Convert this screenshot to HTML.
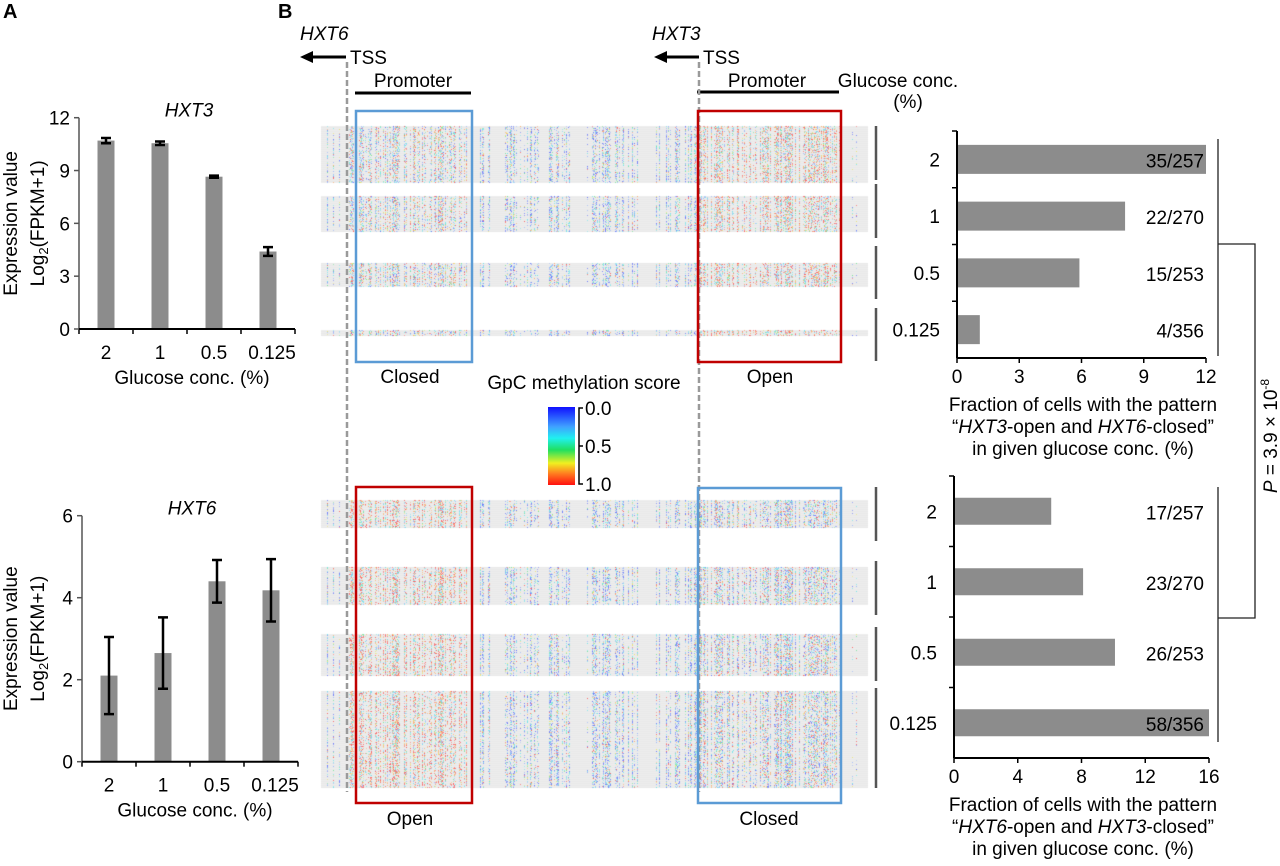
<!DOCTYPE html>
<html><head><meta charset="utf-8">
<style>
html,body{margin:0;padding:0;background:#fff;}
#wrap{position:relative;width:1280px;height:866px;overflow:hidden;font-family:"Liberation Sans",Arial,sans-serif;}
canvas,svg{position:absolute;left:0;top:0;}
</style></head>
<body>
<div id="wrap">
<canvas id="hm" width="1280" height="866"></canvas>
<svg id="fig" width="1280" height="866" xmlns="http://www.w3.org/2000/svg" font-family="Liberation Sans, Arial, sans-serif">
<defs>
<linearGradient id="cb" x1="0" y1="0" x2="0" y2="1">
<stop offset="0" stop-color="#1010ff"/><stop offset="0.25" stop-color="#40a0ff"/><stop offset="0.4" stop-color="#20f0f0"/><stop offset="0.55" stop-color="#20e060"/><stop offset="0.72" stop-color="#f0f020"/><stop offset="0.85" stop-color="#ff8020"/><stop offset="1" stop-color="#ff1010"/>
</linearGradient>
</defs>
<text x="3" y="18" font-size="20" font-weight="bold">A</text>
<text x="278" y="18" font-size="20" font-weight="bold">B</text>

<text x="300" y="40" font-size="19" font-style="italic">HXT6</text>
<text x="652" y="40" font-size="19" font-style="italic">HXT3</text>
<g><line x1="310" y1="57" x2="346" y2="57" stroke="#000" stroke-width="3"/><polygon points="300,57 313,51 313,63" fill="#000"/></g>
<g><line x1="664" y1="57" x2="699" y2="57" stroke="#000" stroke-width="3"/><polygon points="654,57 667,51 667,63" fill="#000"/></g>
<text x="350" y="64" font-size="19">TSS</text>
<text x="703" y="64" font-size="19">TSS</text>
<text x="413" y="87" font-size="19" text-anchor="middle">Promoter</text>
<text x="767" y="87" font-size="19" text-anchor="middle">Promoter</text>
<line x1="355" y1="93" x2="471" y2="93" stroke="#000" stroke-width="3"/>
<line x1="697" y1="92" x2="839" y2="92" stroke="#000" stroke-width="3"/>
<text x="898" y="87" font-size="19" text-anchor="middle">Glucose conc.</text>
<text x="908" y="108" font-size="19" text-anchor="middle">(%)</text>

<line x1="347" y1="62" x2="347" y2="792" stroke="#9a9a9a" stroke-width="2.5" stroke-dasharray="6,3"/>
<line x1="699" y1="62" x2="699" y2="792" stroke="#9a9a9a" stroke-width="2.5" stroke-dasharray="6,3"/>

<rect x="356" y="111" width="116" height="251" fill="none" stroke="#5b9bd5" stroke-width="2.5"/>
<rect x="698" y="111" width="143" height="251" fill="none" stroke="#c00000" stroke-width="2.5"/>
<rect x="356" y="487" width="116" height="316" fill="none" stroke="#c00000" stroke-width="2.5"/>
<rect x="698" y="488" width="143" height="315" fill="none" stroke="#5b9bd5" stroke-width="2.5"/>
<text x="410" y="383" font-size="19" text-anchor="middle">Closed</text>
<text x="770" y="383" font-size="19" text-anchor="middle">Open</text>
<text x="410" y="825" font-size="19" text-anchor="middle">Open</text>
<text x="769" y="825" font-size="19" text-anchor="middle">Closed</text>

<g>
<text x="584" y="389" font-size="19" text-anchor="middle">GpC methylation score</text>
<rect x="548" y="407" width="27" height="78" fill="url(#cb)"/>
<path d="M583,408 L579,408 L579,484 L583,484 M579,446 L583,446" stroke="#000" stroke-width="1.5" fill="none"/>
<text x="585" y="415" font-size="19">0.0</text>
<text x="585" y="453" font-size="19">0.5</text>
<text x="585" y="491" font-size="19">1.0</text>
</g>

<g id="segs" stroke="#555" stroke-width="2.5"></g>

<g stroke="#222" stroke-width="1.3" fill="none">
<line x1="1218" y1="139" x2="1218" y2="356"/>
<line x1="1218" y1="487" x2="1218" y2="742"/>
<polyline points="1218,244 1255,244 1255,618 1218,618"/>
</g>
<text transform="translate(1277,436) rotate(-90)" font-size="19" text-anchor="middle"><tspan font-style="italic">P</tspan> = 3.9 × 10<tspan font-size="12" dy="-8">-8</tspan></text>

<g id="charts"></g>
</svg>
</div>
<script>
// ---------- data ----------
const aCats = ['2','1','0.5','0.125'];
const hxt3Vals = [10.7, 10.55, 8.65, 4.4];
const hxt3Err = [0.15, 0.1, 0.06, 0.25];
const hxt6Vals = [2.1, 2.65, 4.4, 4.18];
const hxt6Err = [0.94, 0.87, 0.52, 0.76];
const hxt3Ticks = [0, 3, 6, 9, 12];
const hxt6Ticks = [0, 2, 4, 6];
const rCats = ['2','1','0.5','0.125'];
const openVals = [12, 8.1, 5.9, 1.1];
const openCounts = ['35/257','22/270','15/253','4/356'];
const openTicks = [0, 3, 6, 9, 12];
const closedVals = [6.1, 8.1, 10.1, 16];
const closedCounts = ['17/257','23/270','26/253','58/356'];
const closedTicks = [0, 4, 8, 12, 16];

const FS = 19;
const NS = 'http://www.w3.org/2000/svg';
const charts = document.getElementById('charts');
function mk(tag, attrs, parent) {
  const e = document.createElementNS(NS, tag);
  for (const k in attrs) e.setAttribute(k, attrs[k]);
  (parent || charts).appendChild(e);
  return e;
}
function txt(x, y, s, anchor, size, parent) {
  const t = mk('text', {x: x, y: y, 'font-size': size || FS, 'text-anchor': anchor || 'middle'}, parent);
  t.textContent = s;
  return t;
}

function vChart(name, cfg) {
  const g = mk('g', {});
  
  
  const yS = v => cfg.y0 - (v / cfg.max) * (cfg.y0 - cfg.yTop);
  const band = (cfg.x1 - cfg.x0) / cfg.cats.length;
  const xS = i => cfg.x0 + band * (i + 0.5);
  cfg.vals.forEach((v, i) => {
    const r = mk('rect', {x: xS(i) - 8.5, y: yS(v), width: 17, height: cfg.y0 - yS(v), fill: '#8c8c8c'}, g);
    
    
    const e = cfg.err[i];
    const eb = mk('path', {d: `M${xS(i)-5},${yS(v+e)}H${xS(i)+5}M${xS(i)},${yS(v+e)}V${yS(v-e)}M${xS(i)-5},${yS(v-e)}H${xS(i)+5}`, stroke: '#000', 'stroke-width': 2.5, fill: 'none'}, g);
    
    
    const tl = txt(xS(i) + (i === 3 ? 4 : 0), cfg.y0 + 30, cfg.cats[i], 'middle', FS, g);
    
    
  });
  mk('line', {x1: cfg.x0, y1: cfg.yTop, x2: cfg.x0, y2: cfg.y0, stroke: '#555', 'stroke-width': 1.5}, g);
  mk('line', {x1: cfg.x0, y1: cfg.y0, x2: cfg.x1, y2: cfg.y0, stroke: '#000', 'stroke-width': 2}, g);
  for (let i = 0; i <= cfg.cats.length; i++) mk('line', {x1: cfg.x0 + band * i, y1: cfg.y0, x2: cfg.x0 + band * i, y2: cfg.y0 + 5, stroke: '#000', 'stroke-width': 1.5}, g);
  cfg.ticks.forEach(t => {
    mk('line', {x1: cfg.x0 - 5, y1: yS(t), x2: cfg.x0, y2: yS(t), stroke: '#555', 'stroke-width': 1.5}, g);
    const tl = txt(cfg.x0 - 9, yS(t) + 7, String(t), 'end', FS, g);
    
    
  });
  const ti = txt((cfg.x0 + cfg.x1) / 2 + 2, cfg.yTop - 1, cfg.title, 'middle', FS, g);
  ti.setAttribute('font-style', 'italic');
  
  
  const xt = txt((cfg.x0 + cfg.x1) / 2 + 5, cfg.y0 + 55, 'Glucose conc. (%)', 'middle', FS, g);
  
  
  const cy = (cfg.yTop + cfg.y0) / 2;
  const y1 = mk('text', {transform: `translate(17,${cy}) rotate(-90)`, 'font-size': FS, 'text-anchor': 'middle'}, g);
  y1.textContent = 'Expression value';
  
  
  const y2 = mk('text', {transform: `translate(44,${cy}) rotate(-90)`, 'font-size': FS, 'text-anchor': 'middle'}, g);
  y2.innerHTML = 'Log<tspan font-size="13" dy="4">2</tspan><tspan dy="-4">(FPKM+1)</tspan>';
  
  
}
vChart('hxt3-expression-chart', {x0: 79, x1: 295, yTop: 117.7, y0: 329, max: 12, cats: aCats, vals: hxt3Vals, err: hxt3Err, ticks: hxt3Ticks, title: 'HXT3'});
vChart('hxt6-expression-chart', {x0: 82, x1: 298, yTop: 515.7, y0: 761.7, max: 6, cats: aCats, vals: hxt6Vals, err: hxt6Err, ticks: hxt6Ticks, title: 'HXT6'});

function hChart(name, cfg) {
  const g = mk('g', {});
  
  
  const xS = v => cfg.x0 + (v / cfg.max) * (cfg.x1 - cfg.x0);
  const band = (cfg.y1 - cfg.yTop) / cfg.cats.length;
  const yS = i => cfg.yTop + band * (i + 0.5);
  cfg.vals.forEach((v, i) => {
    const r = mk('rect', {x: cfg.x0, y: yS(i) - cfg.bh / 2, width: xS(v) - cfg.x0, height: cfg.bh, fill: '#8c8c8c'}, g);
    
    
    const cl = txt(cfg.x0 - 17, yS(i) + 7, cfg.cats[i], 'end', FS, g);
    
    
    const vl = txt(1204, yS(i) + 8, cfg.counts[i], 'end', FS, g);
    
    
  });
  mk('line', {x1: cfg.x0, y1: cfg.yTop, x2: cfg.x0, y2: cfg.y1, stroke: '#000', 'stroke-width': 2}, g);
  mk('line', {x1: cfg.x0, y1: cfg.y1, x2: cfg.x1, y2: cfg.y1, stroke: '#000', 'stroke-width': 2}, g);
  for (let i = 0; i < cfg.cats.length; i++) mk('line', {x1: cfg.x0 - 5, y1: cfg.yTop + band * i, x2: cfg.x0, y2: cfg.yTop + band * i, stroke: '#000', 'stroke-width': 1.5}, g);
  cfg.ticks.forEach(t => {
    mk('line', {x1: xS(t), y1: cfg.y1, x2: xS(t), y2: cfg.y1 + 5, stroke: '#000', 'stroke-width': 1.5}, g);
    const tl = txt(xS(t), cfg.y1 + 25, String(t), 'middle', FS, g);
    
    
  });
  cfg.titleLines.forEach((html, k) => {
    const t = mk('text', {x: 1083, y: cfg.y1 + 53 + k * 22, 'font-size': FS, 'text-anchor': 'middle'}, g);
    t.innerHTML = html;
    
    
  });
}
hChart('open-pattern-chart', {x0: 957, x1: 1206, yTop: 131, y1: 358, max: 12, bh: 29, cats: rCats, vals: openVals, counts: openCounts, ticks: openTicks,
  titleLines: ['Fraction of cells with the pattern', '“<tspan font-style="italic">HXT3</tspan>-open and <tspan font-style="italic">HXT6</tspan>-closed”', 'in given glucose conc. (%)']});
hChart('closed-pattern-chart', {x0: 954, x1: 1209, yTop: 476, y1: 758, max: 16, bh: 27, cats: rCats, vals: closedVals, counts: closedCounts, ticks: closedTicks,
  titleLines: ['Fraction of cells with the pattern', '“<tspan font-style="italic">HXT6</tspan>-open and <tspan font-style="italic">HXT3</tspan>-closed”', 'in given glucose conc. (%)']});

const segs = document.getElementById('segs');
[[126,180],[184,238],[246,299],[308,361],[487,541],[561,615],[627,681],[688,788]].forEach(s => {
  const l = mk('line', {x1: 876, y1: s[0], x2: 876, y2: s[1]}, segs);
  
  
});

// ---------- heatmap texture ----------
const topBlocks = [[126,183],[196,232],[263,287],[330,336]];
const botBlocks = [[500,528],[567,605],[634,676],[691,788]];
(function () {
  const c = document.getElementById('hm');
  const ctx = c.getContext('2d');
  let s = 12345;
  const rnd = () => { s = (s * 1103515245 + 12345) & 0x7fffffff; return s / 0x7fffffff; };
  const dens = [[321,349,0.2],[349,464,0.6],[464,476,0.2],[476,490,0.4],[490,505,0.02],[505,572,0.55],[572,592,0.02],[592,624,0.55],[624,675,0.15],[675,695,0.4],[695,841,0.65],[841,868,0.03]];
  const cols = [];
  dens.forEach(d => { for (let x = d[0]; x < d[1]; x++) if (rnd() < d[2]) cols.push([x, 0.2 + rnd() * 0.5]); });
  const pal = {red:[255,40,40],ora:[255,150,60],yel:[235,225,60],grn:[70,225,120],cyn:[60,225,235],lbl:[120,160,255],blu:[50,70,255]};
  function pick(pr) {
    const r = rnd();
    if (r < pr * 0.6) return pal.red;
    if (r < pr) return pal.ora;
    if (r < pr + 0.07) return pal.yel;
    if (r < pr + 0.15) return pal.grn;
    if (r < pr + 0.35) return pal.cyn;
    if (r < pr + 0.6) return pal.lbl;
    return pal.blu;
  }
  const img = ctx.createImageData(1280, 866);
  const D = img.data;
  function setPx(x, y, c, a) {
    const i = (y * 1280 + x) * 4;
    D[i] = D[i] * (1 - a) + c[0] * a; D[i+1] = D[i+1] * (1 - a) + c[1] * a; D[i+2] = D[i+2] * (1 - a) + c[2] * a; D[i+3] = 255;
  }
  function block(b, leftRed, rightRed) {
    for (let y = b[0]; y < b[1]; y++) for (let x = 321; x < 868; x++) { const i = (y * 1280 + x) * 4; const g = (y % 2) ? 233 : 238; D[i] = g; D[i+1] = g; D[i+2] = g; D[i+3] = 255; }
    cols.forEach(cc => {
      const x = cc[0], p = cc[1];
      const pr = (x >= 349 && x < 472) ? leftRed : (x >= 699 && x < 841) ? rightRed : 0.12;
      for (let y = b[0]; y < b[1]; y++) if (rnd() < p) setPx(x, y, pick(pr), 0.35 + rnd() * 0.35);
    });
  }
  topBlocks.forEach(b => block(b, 0.3, 0.45));
  botBlocks.forEach(b => block(b, 0.5, 0.25));
  ctx.putImageData(img, 0, 0);
})();
</script>
</body></html>
